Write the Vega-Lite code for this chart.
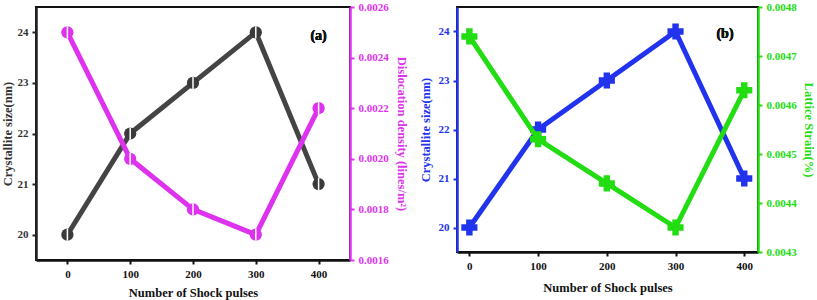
{
  "$schema": "https://vega.github.io/schema/vega-lite/v6.json",
  "padding": {"left": 0, "top": 0, "right": 0, "bottom": 0},
  "background": "white",
  "config": {
    "font": "Liberation Serif, Times New Roman, serif",
    "view": {"stroke": "#111111", "strokeWidth": 2},
    "axis": {"labelFont": "Liberation Serif, Times New Roman, serif", "titleFont": "Liberation Serif, Times New Roman, serif", "labelFontWeight": "bold", "titleFontWeight": "bold", "labelFontSize": 11, "titleFontSize": 12.5, "grid": false, "domainWidth": 2.5, "tickWidth": 2, "tickSize": 4, "labelPadding": 4}
  },
  "datasets": {
    "a": [
      {"pulses": 0, "size": 20, "disl": 0.0025},
      {"pulses": 100, "size": 22, "disl": 0.0020},
      {"pulses": 200, "size": 23, "disl": 0.0018},
      {"pulses": 300, "size": 24, "disl": 0.0017},
      {"pulses": 400, "size": 21, "disl": 0.0022}
    ],
    "b": [
      {"pulses": 0, "size": 20, "strain": 0.00474},
      {"pulses": 100, "size": 22, "strain": 0.00453},
      {"pulses": 200, "size": 23, "strain": 0.00444},
      {"pulses": 300, "size": 24, "strain": 0.00435},
      {"pulses": 400, "size": 21, "strain": 0.00463}
    ]
  },
  "spacing": 107,
  "bounds": "flush",
  "hconcat": [
    {
      "width": 314,
      "height": 253,
      "data": {"name": "a"},
      "encoding": {
        "x": {"field": "pulses", "type": "quantitative", "scale": {"domain": [-50, 450], "nice": false, "zero": false},
              "axis": {"title": "Number of Shock pulses", "values": [0, 100, 200, 300, 400], "domainColor": "#111111", "tickColor": "#111111", "labelColor": "#111111", "titleColor": "#111111", "titlePadding": 7}}
      },
      "layer": [
        {
          "encoding": {
            "y": {"field": "size", "type": "quantitative", "scale": {"domain": [19.5, 24.5], "nice": false, "zero": false},
                  "axis": {"title": "Crystallite size(nm)", "values": [20, 21, 22, 23, 24], "orient": "left", "domainColor": "#222222", "tickColor": "#222222", "labelColor": "#333333", "titleColor": "#333333", "titlePadding": 3}}
          },
          "layer": [
            {"mark": {"type": "line", "color": "#444444", "strokeWidth": 5}},
            {"mark": {"type": "point", "shape": "circle", "filled": true, "color": "#3a3a3a", "size": 150, "opacity": 1}},
            {"mark": {"type": "point", "shape": "stroke", "angle": 90, "filled": false, "color": "white", "stroke": "white", "strokeWidth": 1.5, "size": 150, "opacity": 1}},
            {"mark": {"type": "text", "text": "(a)", "font": "Liberation Serif, Times New Roman, serif", "fontWeight": "bold", "fontSize": 14, "color": "#111111"},
             "encoding": {"x": {"datum": 400}, "y": {"datum": 23.92}}}
          ]
        },
        {
          "encoding": {
            "y": {"field": "disl", "type": "quantitative", "scale": {"domain": [0.0016, 0.0026], "nice": false, "zero": false},
                  "axis": {"title": "Dislocation density (lines/m²)", "orient": "right", "values": [0.0016, 0.0018, 0.002, 0.0022, 0.0024, 0.0026], "format": ".4f", "domainColor": "#dd33ee", "tickColor": "#dd33ee", "labelColor": "#dd33ee", "titleColor": "#dd33ee", "titlePadding": 6}}
          },
          "layer": [
            {"mark": {"type": "line", "color": "#dd33ee", "strokeWidth": 5}},
            {"mark": {"type": "point", "shape": "circle", "filled": true, "color": "#dd33ee", "size": 150, "opacity": 1}},
            {"mark": {"type": "point", "shape": "stroke", "angle": 90, "filled": false, "color": "white", "stroke": "white", "strokeWidth": 1.5, "size": 150, "opacity": 1}}
          ]
        }
      ],
      "resolve": {"scale": {"y": "independent"}}
    },
    {
      "width": 301,
      "height": 245,
      "data": {"name": "b"},
      "encoding": {
        "x": {"field": "pulses", "type": "quantitative", "scale": {"domain": [-18, 420], "nice": false, "zero": false},
              "axis": {"title": "Number of Shock pulses", "values": [0, 100, 200, 300, 400], "domainColor": "#111111", "tickColor": "#111111", "labelColor": "#111111", "titleColor": "#111111", "titlePadding": 10}}
      },
      "layer": [
        {
          "encoding": {
            "y": {"field": "size", "type": "quantitative", "scale": {"domain": [19.5, 24.5], "nice": false, "zero": false},
                  "axis": {"title": "Crystallite size(nm)", "values": [20, 21, 22, 23, 24], "orient": "left", "domainColor": "#2233ee", "tickColor": "#2233ee", "labelColor": "#2233ee", "titleColor": "#2233ee", "titlePadding": 6}}
          },
          "layer": [
            {"mark": {"type": "line", "color": "#2233ee", "strokeWidth": 5}},
            {"mark": {"type": "point", "shape": "cross", "filled": true, "color": "#2233ee", "size": 260, "opacity": 1}},
            {"mark": {"type": "text", "text": "(b)", "font": "Liberation Serif, Times New Roman, serif", "fontWeight": "bold", "fontSize": 14, "color": "#111111"},
             "encoding": {"x": {"datum": 372}, "y": {"datum": 23.95}}}
          ]
        },
        {
          "encoding": {
            "y": {"field": "strain", "type": "quantitative", "scale": {"domain": [0.0043, 0.0048], "nice": false, "zero": false},
                  "axis": {"title": "Lattice Strain(%)", "orient": "right", "values": [0.0043, 0.0044, 0.0045, 0.0046, 0.0047, 0.0048], "format": ".4f", "domainColor": "#22dd11", "tickColor": "#22dd11", "labelColor": "#22dd11", "titleColor": "#22dd11", "titlePadding": 5}}
          },
          "layer": [
            {"mark": {"type": "line", "color": "#22dd11", "strokeWidth": 5}},
            {"mark": {"type": "point", "shape": "cross", "filled": true, "color": "#22dd11", "size": 260, "opacity": 1}}
          ]
        }
      ],
      "resolve": {"scale": {"y": "independent"}}
    }
  ]
}
